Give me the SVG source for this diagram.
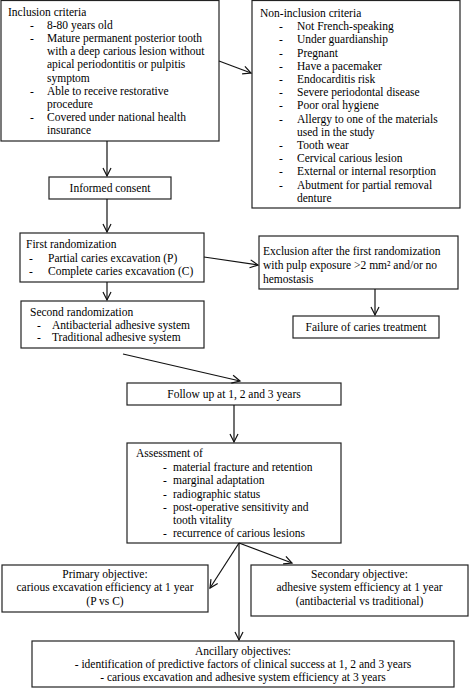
<svg xmlns="http://www.w3.org/2000/svg" width="473" height="688" viewBox="0 0 473 688">
<defs>
<marker id="ah" markerUnits="userSpaceOnUse" markerWidth="10" markerHeight="10" refX="8" refY="4" orient="auto" overflow="visible">
<path d="M0,0 L8,4 L0,8" fill="none" stroke="#111" stroke-width="1.2"/>
</marker>
<style>
rect{fill:#fff;stroke:#222;stroke-width:1.2}
text{font-family:"Liberation Serif","Times New Roman",serif;font-size:11.5px;fill:#000}
.c{text-anchor:middle}
.conn line{stroke:#111;stroke-width:1.2;marker-end:url(#ah)}
</style>
</defs>
<rect x="0" y="0" width="473" height="688" style="fill:#fff;stroke:none"/>

<g id="inclusion">
<rect x="1" y="0.5" width="218" height="140.5"/>
<text x="8" y="15.5">Inclusion criteria</text>
<text x="30" y="28.7">-</text><text x="47" y="28.7">8-80 years old</text>
<text x="30" y="41.9">-</text><text x="47" y="41.9">Mature permanent posterior tooth</text>
<text x="47" y="55.1">with a deep carious lesion without</text>
<text x="47" y="68.3">apical periodontitis or pulpitis</text>
<text x="47" y="81.5">symptom</text>
<text x="30" y="94.7">-</text><text x="47" y="94.7">Able to receive restorative</text>
<text x="47" y="107.9">procedure</text>
<text x="30" y="121.1">-</text><text x="47" y="121.1">Covered under national health</text>
<text x="47" y="134.3">insurance</text>
</g>

<g id="noninclusion">
<rect x="252" y="0.5" width="208" height="207.5"/>
<text x="260" y="17">Non-inclusion criteria</text>
<text x="279" y="30.2">-</text><text x="297" y="30.2">Not French-speaking</text>
<text x="279" y="43.4">-</text><text x="297" y="43.4">Under guardianship</text>
<text x="279" y="56.6">-</text><text x="297" y="56.6">Pregnant</text>
<text x="279" y="69.8">-</text><text x="297" y="69.8">Have a pacemaker</text>
<text x="279" y="83">-</text><text x="297" y="83">Endocarditis risk</text>
<text x="279" y="96.2">-</text><text x="297" y="96.2">Severe periodontal disease</text>
<text x="279" y="109.4">-</text><text x="297" y="109.4">Poor oral hygiene</text>
<text x="279" y="122.6">-</text><text x="297" y="122.6">Allergy to one of the materials</text>
<text x="297" y="135.8">used in the study</text>
<text x="279" y="149">-</text><text x="297" y="149">Tooth wear</text>
<text x="279" y="162.2">-</text><text x="297" y="162.2">Cervical carious lesion</text>
<text x="279" y="175.4">-</text><text x="297" y="175.4">External or internal resorption</text>
<text x="279" y="188.6">-</text><text x="297" y="188.6">Abutment for partial removal</text>
<text x="297" y="201.8">denture</text>
</g>

<g id="consent">
<rect x="49" y="177" width="122" height="22"/>
<text class="c" x="110" y="192">Informed consent</text>
</g>

<g id="firstrand">
<rect x="20" y="233" width="184" height="49"/>
<text x="26" y="248">First randomization</text>
<text x="29" y="262">-</text><text x="48" y="262">Partial caries excavation (P)</text>
<text x="29" y="275">-</text><text x="48" y="275">Complete caries excavation (C)</text>
</g>

<g id="exclusion">
<rect x="259" y="236" width="199" height="53"/>
<text x="263" y="255">Exclusion after the first randomization</text>
<text x="263" y="269">with pulp exposure &gt;2 mm² and/or no</text>
<text x="263" y="283">hemostasis</text>
</g>

<g id="failure">
<rect x="293" y="316" width="146" height="22"/>
<text class="c" x="366" y="331">Failure of caries treatment</text>
</g>

<g id="secondrand">
<rect x="21" y="301" width="183" height="47"/>
<text x="30" y="316">Second randomization</text>
<text x="37" y="329">-</text><text x="52" y="329">Antibacterial adhesive system</text>
<text x="37" y="341">-</text><text x="52" y="341">Traditional adhesive system</text>
</g>

<g id="followup">
<rect x="127" y="383" width="214" height="22"/>
<text class="c" x="234" y="398">Follow up at 1, 2 and 3 years</text>
</g>

<g id="assessment">
<rect x="127" y="443" width="214" height="100"/>
<text x="136" y="457">Assessment of</text>
<text x="163" y="471">-</text><text x="173" y="471">material fracture and retention</text>
<text x="163" y="484">-</text><text x="173" y="484">marginal adaptation</text>
<text x="163" y="498">-</text><text x="173" y="498">radiographic status</text>
<text x="163" y="511">-</text><text x="173" y="511">post-operative sensitivity and</text>
<text x="173" y="524">tooth vitality</text>
<text x="163" y="537">-</text><text x="173" y="537">recurrence of carious lesions</text>
</g>

<g id="primary">
<rect x="2" y="565" width="206" height="47"/>
<text class="c" x="105" y="578">Primary objective:</text>
<text class="c" x="105" y="591">carious excavation efficiency at 1 year</text>
<text class="c" x="105" y="605">(P vs C)</text>
</g>

<g id="secondary">
<rect x="251" y="565" width="217" height="51"/>
<text class="c" x="359.5" y="578">Secondary objective:</text>
<text class="c" x="359.5" y="591">adhesive system efficiency at 1 year</text>
<text class="c" x="359.5" y="605">(antibacterial vs traditional)</text>
</g>

<g id="ancillary">
<rect x="32" y="641" width="422" height="46"/>
<text class="c" x="243" y="655">Ancillary objectives:</text>
<text class="c" x="243" y="668">- identification of predictive factors of clinical success at 1, 2 and 3 years</text>
<text class="c" x="243" y="681">- carious excavation and adhesive system efficiency at 3 years</text>
</g>

<g id="connectors" class="conn">
<line x1="219" y1="61" x2="251" y2="73"/>
<line x1="107" y1="141" x2="107" y2="176"/>
<line x1="107" y1="199" x2="107" y2="232"/>
<line x1="204" y1="257" x2="258" y2="265"/>
<line x1="375" y1="289" x2="375" y2="315"/>
<line x1="107" y1="282" x2="107" y2="300"/>
<line x1="123" y1="354" x2="240" y2="381"/>
<line x1="234" y1="405" x2="234" y2="442"/>
<line x1="239" y1="543" x2="210" y2="588"/>
<line x1="239" y1="543" x2="292" y2="563"/>
<line x1="239" y1="543" x2="239" y2="640"/>
</g>
</svg>
